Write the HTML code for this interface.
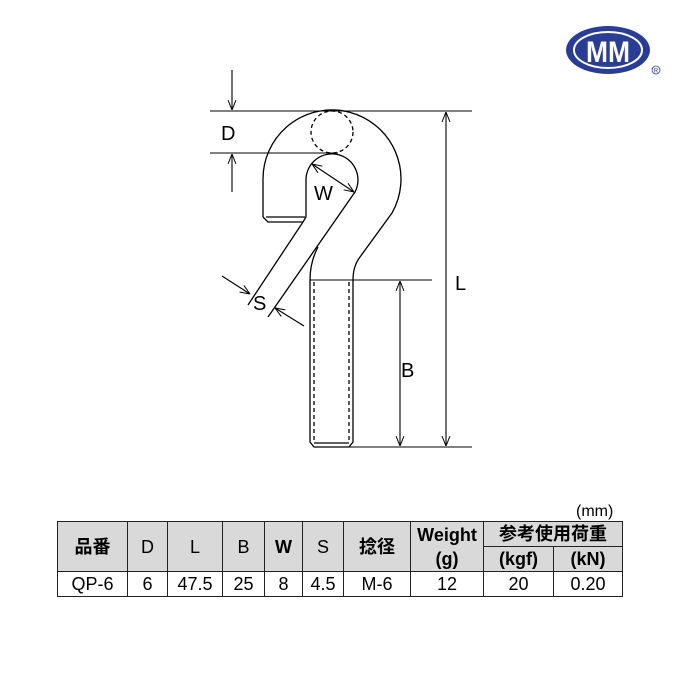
<!DOCTYPE html><html><head><style>
body{margin:0;background:#fff;width:680px;height:680px;overflow:hidden;position:relative;font-family:"Liberation Sans","Noto Sans CJK JP",sans-serif}
table{position:absolute;left:57px;top:521px;border-collapse:collapse;font-size:18px}
td{border:1px solid #222;text-align:center;padding:0;height:24px;line-height:22px}
.h{background:#d9d9d9;font-weight:bold}
</style></head><body>
<svg width="680" height="680" style="position:absolute;left:0;top:0" font-family="Liberation Sans,sans-serif">
<defs><marker id="a" viewBox="0 0 10 10" refX="10" refY="5" markerWidth="9" markerHeight="9" orient="auto-start-reverse"><path d="M0,1 L10,5 L0,9" fill="none" stroke="#000" stroke-width="1"/></marker></defs>
<g fill="none" stroke="#000" stroke-width="1.3">
<path d="M263,217 L263,180 A69,69 0 1 1 392,213 L360,257 Q353,266 353,280 L353,442 L349,447 L314,447 L310,442 L310,280 Q310,262 318,247"/>
<path d="M303,222 L248,305"/>
<path d="M268,317 L355,192 A26,26 0 1 0 306,179 L306,217 L303,222 L268,222 L263,217"/>
<line x1="266" y1="217" x2="305" y2="217"/>
<line x1="314" y1="443" x2="349" y2="443"/>
<circle cx="332" cy="132" r="21" stroke-dasharray="4,3"/>
<line x1="314" y1="282" x2="314" y2="440" stroke-dasharray="4,3"/>
<line x1="349" y1="282" x2="349" y2="440" stroke-dasharray="4,3"/>
</g>
<g stroke="#000" stroke-width="1.1" fill="none">
<line x1="210" y1="111" x2="472" y2="111"/>
<line x1="210" y1="153" x2="338" y2="153"/>
<line x1="232" y1="70" x2="232" y2="110" marker-end="url(#a)"/>
<line x1="232" y1="192" x2="232" y2="154" marker-end="url(#a)"/>
<line x1="310" y1="280" x2="432" y2="280"/>
<line x1="314" y1="447" x2="472" y2="447"/>
<line x1="400" y1="281" x2="400" y2="446" marker-start="url(#a)" marker-end="url(#a)"/>
<line x1="446" y1="112" x2="446" y2="446" marker-start="url(#a)" marker-end="url(#a)"/>
<line x1="312" y1="164" x2="354" y2="192" marker-start="url(#a)" marker-end="url(#a)"/>
<line x1="222" y1="276" x2="250" y2="294" marker-end="url(#a)"/>
<line x1="304" y1="326" x2="275" y2="308" marker-end="url(#a)"/>
</g>
<g font-size="20" fill="#000">
<text x="221" y="140">D</text><text x="314" y="200">W</text><text x="253" y="310">S</text>
<text x="401" y="377">B</text><text x="455" y="290">L</text>
</g>
<ellipse cx="608" cy="50" rx="42" ry="24" fill="#2a3d95"/>
<ellipse cx="608" cy="50" rx="34" ry="18" fill="none" stroke="#fff" stroke-width="2"/>
<text x="608" y="62" font-size="30" font-weight="bold" fill="#fff" text-anchor="middle" textLength="44" lengthAdjust="spacingAndGlyphs">MM</text>
<circle cx="656" cy="70" r="4" fill="none" stroke="#2a3d95" stroke-width="0.8"/>
<text x="656" y="72.5" font-size="6" fill="#2a3d95" text-anchor="middle">R</text>
<text x="576" y="516" font-size="16">(mm)</text>
</svg>
<table>
<tr><td class="h" rowspan="2" style="width:69px">品番</td><td class="h" rowspan="2" style="width:39px;font-weight:normal">D</td><td class="h" rowspan="2" style="width:54px;font-weight:normal">L</td><td class="h" rowspan="2" style="width:41px;font-weight:normal">B</td><td class="h" rowspan="2" style="width:37px">W</td><td class="h" rowspan="2" style="width:40px;font-weight:normal">S</td><td class="h" rowspan="2" style="width:66px">捻径</td><td class="h" rowspan="2" style="width:72px;line-height:24px">Weight<br>(g)</td><td class="h" colspan="2">参考使用荷重</td></tr>
<tr><td class="h" style="width:69px">(kgf)</td><td class="h" style="width:68px">(kN)</td></tr>
<tr><td>QP-6</td><td>6</td><td>47.5</td><td>25</td><td>8</td><td>4.5</td><td>M-6</td><td>12</td><td>20</td><td>0.20</td></tr>
</table>
</body></html>
